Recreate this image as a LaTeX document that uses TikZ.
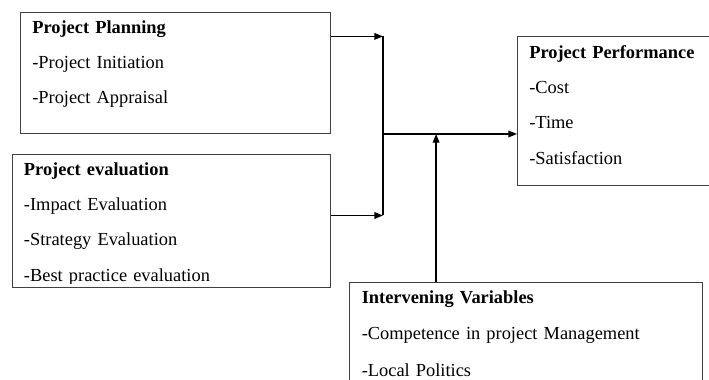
\documentclass[tikz,border=0pt]{standalone}
\usepackage{fontspec}
\setmainfont{Liberation Serif}
\usetikzlibrary{calc, arrows.meta}

\begin{document}
\begin{tikzpicture}[
        x=0.75pt, y=-0.75pt,
        frame/.style = {draw=black!75, line width=0.75pt, rectangle, anchor=north west, inner sep=0pt},
        txt/.style = {anchor=base west, inner sep=0pt, align=left, text width=260pt, font=\fontsize{13.8pt}{26.6pt}\selectfont},
        arrow/.style = {draw=black, line width=1pt, -{Triangle[length=6.5pt, width=5pt]}},
        bus/.style = {draw=black, line width=1pt}
    ]
        \useasboundingbox (0,0) rectangle (709,379);

        % Boxes
        \node (plan) [frame, minimum width=232.5pt, minimum height=90.75pt] at (20,12) {};
        \node (evalu) [frame, minimum width=238.7pt, minimum height=99.5pt] at (11.7,154) {};
        \node (perf) [frame, minimum width=160pt, minimum height=111.75pt] at (517,36) {};
        \node (inter) [frame, minimum width=264.75pt, minimum height=90pt] at (349,282) {};

        % Texts
        \node (plantxt) [txt] at ($(plan.north west)+(12,21)$) {\textbf{Project Planning}\\-Project Initiation\\-Project Appraisal};
        \begin{scope}
            \clip (0,154) rectangle (340,283);
            \node (evaltxt) [txt] at ($(evalu.north west)+(12,21)$) {\textbf{Project evaluation}\\-Impact Evaluation\\-Strategy Evaluation\\-Best practice evaluation};
        \end{scope}
        \node (perftxt) [txt] at ($(perf.north west)+(12,22)$) {\textbf{Project Performance}\\-Cost\\-Time\\-Satisfaction};
        \node (intertxt) [txt, font=\fontsize{13.8pt}{27.5pt}\selectfont] at ($(inter.north west)+(12.5,21)$) {\textbf{Intervening Variables}\\-Competence in project Management\\-Local Politics};

        % Connectors
        \coordinate (planout) at ($(plan.north east)!0.2!(plan.south east)$);
        \coordinate (evalout) at ($(evalu.north east)!0.46!(evalu.south east)$);
        \coordinate (merge) at (383,134);
        \coordinate (interout) at ($(inter.north west)!0.246!(inter.north east)$);

        \draw [arrow] (planout) -- (planout -| merge);
        \draw [arrow] (evalout) -- (evalout -| merge);
        \draw [bus] (planout -| merge) -- (evalout -| merge);
        \draw [arrow] (merge) -- (merge -| perf.west);
        \draw [arrow] (interout) -- (interout |- merge);

    \end{tikzpicture}
\end{document}
